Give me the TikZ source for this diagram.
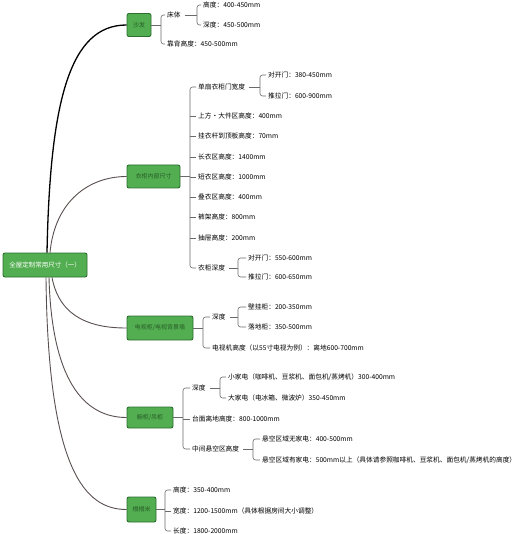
\documentclass[tikz,border=0pt]{standalone}
\usepackage{fontspec}
\newfontfamily\cjk{Noto Sans CJK SC}
\usetikzlibrary{calc}
\definecolor{boxfill}{HTML}{52AE50}
\definecolor{boxline}{HTML}{2B6E2E}
\definecolor{boxtext}{HTML}{2A5E2A}
\definecolor{linkc}{HTML}{5A4F4F}
\definecolor{brkc}{HTML}{6A6A6A}
\newcommand\mmBrk[3]{\draw[brk,rounded corners=2.5pt] (#2.west) -- (#2.west -| #1) -- (#3.west -| #1) -- (#3.west);}
\newcommand\mmTick[2]{\draw[brk] (#2.west -| #1) -- (#2.west);}
\newcommand\mmLink[2]{\draw[brk] (#2.east) -- (#2.east -| #1);}
\begin{document}
\begin{tikzpicture}[x=1pt,y=-1pt,
  topic/.style={draw=boxline, fill=boxfill, rounded corners=2pt, line width=0.9pt,
    text=boxtext, font=\cjk\fontsize{6}{7}\selectfont, inner sep=1pt},
  rootbox/.style={topic, text=white, font=\cjk\fontsize{6.5}{7}\selectfont},
  leaf/.style={anchor=west, inner xsep=2pt, inner ysep=1pt, text=black,
    font=\cjk\fontsize{6.7}{7}\selectfont},
  brk/.style={draw=brkc, line width=0.6pt},
  link/.style={draw=linkc, line width=0.9pt}]
\useasboundingbox (0,0) rectangle (515,534);
% bracket x positions
\coordinate (k1) at (161,0);
\coordinate (k1a) at (197,0);
\coordinate (k2) at (190,0);
\coordinate (k2a) at (260,0);
\coordinate (k2b) at (238,0);
\coordinate (k3) at (203,0);
\coordinate (k3a) at (238,0);
\coordinate (k4) at (183,0);
\coordinate (k4a) at (220,0);
\coordinate (k4b) at (253,0);
\coordinate (k5) at (165,0);

% root and topics
\node[rootbox, minimum width=84pt, minimum height=24pt] (root) at (45,265) {全屋定制常用尺寸（一）};
\node[topic, minimum width=24pt, minimum height=23pt] (b1) at (139,25) {沙发};
\node[topic, minimum width=53pt, minimum height=23pt] (b2) at (153.5,176.5) {衣柜内部尺寸};
\node[topic, minimum width=66pt, minimum height=24pt] (b3) at (160,328) {电视柜/电视背景墙};
\node[topic, minimum width=46pt, minimum height=21pt] (b4) at (150,417.5) {橱柜/吊柜};
\node[topic, minimum width=29pt, minimum height=25pt] (b5) at (141.5,509.5) {榻榻米};

% root links
\draw[link, draw=black, line width=1.3pt] ($(root.north)+(2,0)$) .. controls (50,100) and (70,25) .. (b1.west);
\draw[link] ($(root.north)+(5,0)$) .. controls (55,200) and (90,176.5) .. (b2.west);
\draw[link] ($(root.south)+(7,0)$) .. controls (60,320) and (95,328) .. (b3.west);
\draw[link] ($(root.south)+(4,0)$) .. controls (52,390) and (90,417.5) .. (b4.west);
\draw[link] ($(root.south)+(1,0)$) .. controls (48,470) and (85,509.5) .. (b5.west);

% branch 1
\node[leaf] (c11) at (165,15) {床体};
\node[leaf] (c12) at (165,44) {靠背高度：450-500mm};
\node[leaf] (c111) at (201,5) {高度：400-450mm};
\node[leaf] (c112) at (201,25) {深度：450-500mm};
\mmLink{k1}{b1}
\mmBrk{k1}{c11}{c12}
\draw[brk] ($(c11.east)+(2,0)$) -- (c11.east -| k1a);
\mmBrk{k1a}{c111}{c112}

% branch 2
\node[leaf] (c21) at (196,87) {单扇衣柜门宽度};
\node[leaf] (c22) at (196,116) {上方·大件区高度：400mm};
\node[leaf] (c23) at (196,136) {挂衣杆到顶板高度：70mm};
\node[leaf] (c24) at (196,157) {长衣区高度：1400mm};
\node[leaf] (c25) at (196,177) {短衣区高度：1000mm};
\node[leaf] (c26) at (196,197) {叠衣区高度：400mm};
\node[leaf] (c27) at (196,217) {裤架高度：800mm};
\node[leaf] (c28) at (196,238) {抽屉高度：200mm};
\node[leaf] (c29) at (196,268) {衣柜深度};
\node[leaf] (c211) at (266,75) {对开门：380-450mm};
\node[leaf] (c212) at (266,96) {推拉门：600-900mm};
\node[leaf] (c291) at (246,258) {对开门：550-600mm};
\node[leaf] (c292) at (246,277) {推拉门：600-650mm};
\draw[brk] (b2.east) -- (b2.east -| k2);
\mmBrk{k2}{c21}{c29}
\mmTick{k2}{c22}\mmTick{k2}{c23}\mmTick{k2}{c24}\mmTick{k2}{c25}
\mmTick{k2}{c26}\mmTick{k2}{c27}\mmTick{k2}{c28}
\draw[brk] ($(c21.east)+(2,0)$) -- (c21.east -| k2a);
\mmBrk{k2a}{c211}{c212}
\draw[brk] ($(c29.east)+(2,0)$) -- (c29.east -| k2b);
\mmBrk{k2b}{c291}{c292}

% branch 3
\node[leaf] (c31) at (210,317) {深度};
\node[leaf] (c32) at (210,348) {电视机高度（以55寸电视为例）：离地600-700mm};
\node[leaf] (c311) at (246,307) {壁挂柜：200-350mm};
\node[leaf] (c312) at (246,327) {落地柜：350-500mm};
\mmLink{k3}{b3}
\mmBrk{k3}{c31}{c32}
\draw[brk] ($(c31.east)+(2,0)$) -- (c31.east -| k3a);
\mmBrk{k3a}{c311}{c312}

% branch 4
\node[leaf] (c41) at (190,388) {深度};
\node[leaf] (c42) at (190,419) {台面离地高度：800-1000mm};
\node[leaf] (c43) at (190,449) {中间悬空区高度};
\node[leaf] (c411) at (226,377) {小家电（咖啡机、豆浆机、面包机/蒸烤机）300-400mm};
\node[leaf] (c412) at (226,398) {大家电（电冰箱、微波炉）350-450mm};
\node[leaf] (c431) at (260,439) {悬空区域无家电：400-500mm};
\node[leaf] (c432) at (260,460) {悬空区域有家电：500mm以上（具体请参照咖啡机、豆浆机、面包机/蒸烤机的高度）};
\mmLink{k4}{b4}
\mmBrk{k4}{c41}{c43}
\mmTick{k4}{c42}
\draw[brk] ($(c41.east)+(2,0)$) -- (c41.east -| k4a);
\mmBrk{k4a}{c411}{c412}
\draw[brk] ($(c43.east)+(2,0)$) -- (c43.east -| k4b);
\mmBrk{k4b}{c431}{c432}

% branch 5
\node[leaf] (c51) at (171,490) {高度：350-400mm};
\node[leaf] (c52) at (171,511) {宽度：1200-1500mm（具体根据房间大小调整）};
\node[leaf] (c53) at (171,531) {长度：1800-2000mm};
\mmLink{k5}{b5}
\mmBrk{k5}{c51}{c53}
\mmTick{k5}{c52}
\end{tikzpicture}
\end{document}
